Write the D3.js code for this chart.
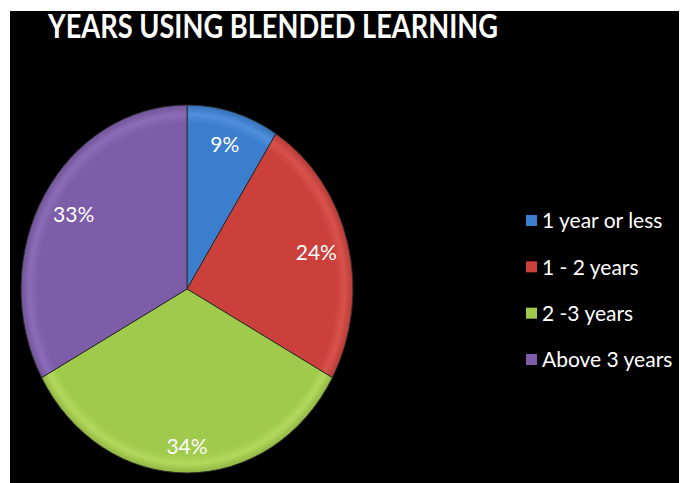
<!DOCTYPE html>
<html><head><meta charset="utf-8">
<script src="https://cdn.jsdelivr.net/npm/d3@7"></script>
<style>html,body{margin:0;padding:0;background:#fff;}svg{display:block;}</style>
</head><body>
<script>
const title = "YEARS USING BLENDED LEARNING";
const categories = ["1 year or less", "1 - 2 years", "2 -3 years", "Above 3 years"];
const values = [9, 24, 34, 33];
const labels = ["9%", "24%", "34%", "33%"];
const colors = ["#3b7ecd", "#cc403b", "#a0ca4b", "#7d5ca8"];
const lightColors = ["#4f8fdc", "#d8524c", "#b2d95c", "#8c6cb8"];

const W = 692, H = 483;
const svg = d3.select("body").append("svg").attr("width", W).attr("height", H);
svg.append("rect").attr("x", 0).attr("y", 0).attr("width", W).attr("height", H).attr("fill", "#fff");
svg.append("rect").attr("x", 10).attr("y", 11).attr("width", 669).attr("height", H - 11).attr("fill", "#000");

svg.append("text").attr("x", 48).attr("y", 38)
  .attr("font-family", "Lato, 'Open Sans', sans-serif").attr("font-weight", 700)
  .attr("font-size", 33).attr("fill", "#fff")
  .attr("textLength", 450).attr("lengthAdjust", "spacingAndGlyphs")
  .text(title);

const cx = 187, cy = 289, R = 184, sx = 166 / 184;
const defs = svg.append("defs");
colors.forEach((c, i) => {
  const g = defs.append("radialGradient").attr("id", "g" + i)
    .attr("gradientUnits", "userSpaceOnUse").attr("cx", 0).attr("cy", 0).attr("r", R);
  g.append("stop").attr("offset", "0%").attr("stop-color", c);
  g.append("stop").attr("offset", "90%").attr("stop-color", c);
  g.append("stop").attr("offset", "95%").attr("stop-color", lightColors[i]);
  g.append("stop").attr("offset", "100%").attr("stop-color", d3.color(c).darker(0.3));
});

const pie = d3.pie().sort(null).value(d => d);
const arcs = pie(values);
const arc = d3.arc().innerRadius(0).outerRadius(R);

const pg = svg.append("g").attr("transform", `translate(${cx},${cy}) scale(${sx},1)`);
pg.selectAll("path").data(arcs).join("path")
  .attr("d", arc)
  .attr("fill", (d, i) => `url(#g${i})`)
  .attr("stroke", "#2a2a2a").attr("stroke-width", 1);

const lg = svg.append("g").attr("transform", `translate(${cx},${cy})`);
const labelR = [150, 148, 158, 146];
lg.selectAll("text").data(arcs).join("text")
  .attr("x", (d, i) => Math.sin((d.startAngle + d.endAngle) / 2) * labelR[i] * sx)
  .attr("y", (d, i) => -Math.cos((d.startAngle + d.endAngle) / 2) * labelR[i])
  .attr("dy", "0.35em")
  .attr("text-anchor", "middle")
  .attr("font-family", "Lato, 'Open Sans', sans-serif").attr("font-size", 21)
  .attr("fill", "#fff")
  .text((d, i) => labels[i]);

const legendY = d3.scalePoint().domain(categories).range([221, 360]);
const leg = svg.append("g");
const items = leg.selectAll("g").data(categories).join("g")
  .attr("transform", d => `translate(527,${legendY(d)})`);
items.append("rect").attr("x", -1).attr("y", -6).attr("width", 11).attr("height", 11)
  .attr("fill", (d, i) => colors[i]);
items.append("text").attr("x", 15).attr("dy", "0.35em")
  .attr("font-family", "Lato, 'Open Sans', sans-serif").attr("font-size", 21)
  .attr("fill", "#fff").text(d => d);
</script>
</body></html>
